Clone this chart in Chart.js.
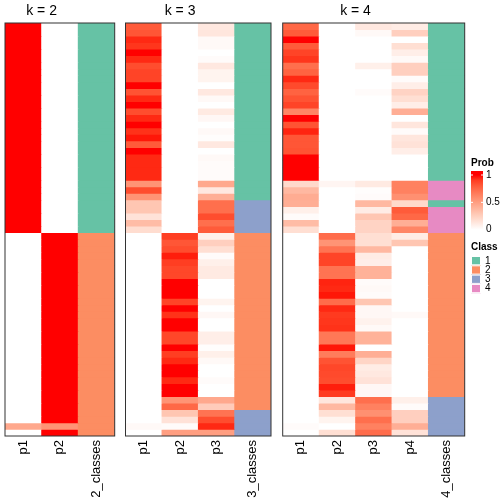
<!DOCTYPE html>
<html>
<head>
<meta charset="utf-8">
<script src="https://cdn.jsdelivr.net/npm/chart.js@4.4.1/dist/chart.umd.min.js"></script>
<style>
  body { margin: 0; background: #fff; }
  canvas { position: absolute; left: 0; top: 0; }
</style>
</head>
<body>
<canvas id="k2" width="504" height="504"></canvas>
<canvas id="k3" width="504" height="504"></canvas>
<canvas id="k4" width="504" height="504"></canvas>
<script>
// membership probabilities, one value per row (63 rows, top to bottom)
var k2_p1 = [1,1,1,1,1,1,1,1,1,1,1,1,1,1,1,1,1,1,1,1,1,1,1,1,1,1,1,1,1,1,1,1,
  0,0,0,0,0,0,0,0,0,0,0,0,0,0,0,0,0,0,0,0,0,0,0,0,0,0,0,0,0,0.45,0];
var k2_p2 = [0,0,0,0,0,0,0,0,0,0,0,0,0,0,0,0,0,0,0,0,0,0,0,0,0,0,0,0,0,0,0,0,
  1,1,1,1,1,1,1,1,1,1,1,1,1,1,1,1,1,1,1,1,1,1,1,1,1,1,1,1,1,0.55,1];
var k2_class = [1,1,1,1,1,1,1,1,1,1,1,1,1,1,1,1,1,1,1,1,1,1,1,1,1,1,1,1,1,1,1,1,
  2,2,2,2,2,2,2,2,2,2,2,2,2,2,2,2,2,2,2,2,2,2,2,2,2,2,2,2,2,2,2];

var k3_p1 = [0.8,0.82,0.95,0.92,1,0.95,0.85,0.88,0.88,1,0.83,0.95,1,0.85,0.95,1,0.93,0.98,0.8,1,
  0.95,0.95,0.95,0.95,0.55,0.85,0.55,0.3,0.3,0.15,0.35,0.18,
  0,0,0,0,0,0,0,0,0,0,0,0,0,0,0,0,0,0,0,0,0,0,0,0,0,0,0,0,0,0.03,0];
var k3_p2 = [0,0,0,0,0,0,0,0,0,0,0,0,0,0,0,0,0,0,0,0,0,0,0,0,0,0,0,0,0,0,0,0,
  0.9,0.82,0.85,0.97,0.9,0.87,0.87,1,1,1,0.88,1,0.93,1,1,0.87,0.87,1,0.9,0.95,1,1,0.95,1,1,
  0.55,0.75,0.3,0.15,0.02,0.5];
var k3_p3 = [0.12,0.13,0.03,0.03,0,0.02,0.12,0.06,0.06,0,0.12,0.03,0,0.11,0.04,0,0.03,0.01,0.12,0,
  0.03,0.02,0.02,0.02,0.45,0.12,0.42,0.72,0.72,0.85,0.72,0.8,
  0.08,0.25,0.17,0.02,0.08,0.11,0.11,0,0,0,0.06,0,0.04,0,0,0.09,0.09,0.01,0.08,0.03,0,0,0.02,0,0,
  0.45,0.27,0.7,0.85,0.95,0.5];
var k3_class = [1,1,1,1,1,1,1,1,1,1,1,1,1,1,1,1,1,1,1,1,1,1,1,1,1,1,1,3,3,3,3,3,
  2,2,2,2,2,2,2,2,2,2,2,2,2,2,2,2,2,2,2,2,2,2,2,2,2,2,2,3,3,3,3];

var k4_p1 = [0.75,0.8,1,0.8,0.88,0.92,0.72,0.77,0.95,0.86,0.77,0.83,0.88,0.62,1,0.83,0.96,0.82,0.82,0.83,
  1,1,1,1,0.2,0.37,0.43,0.42,0.08,0.02,0.35,0.17,
  0,0,0,0,0,0,0,0,0,0,0,0,0,0,0,0,0,0,0,0,0,0,0,0,0,0,0,0,0,0.02,0];
var k4_p2 = [0,0,0,0,0,0,0,0,0,0,0,0,0,0,0,0,0,0,0,0,0,0,0,0,0.05,0,0,0,0,0,0,0,
  0.73,0.55,0.7,0.88,0.88,0.7,0.7,0.96,0.95,0.98,0.73,0.95,0.91,0.92,0.93,0.68,0.68,0.98,0.66,0.83,
  0.87,0.86,0.85,0.97,0.91,0.13,0.37,0.17,0.06,0,0.17];
var k4_p3 = [0.12,0.03,0,0,0,0,0.08,0,0,0,0.02,0,0,0,0,0,0,0,0,0,0,0,0,0,
  0.11,0.01,0.02,0.37,0.1,0.3,0.23,0.23,
  0.17,0.17,0.37,0.1,0.09,0.4,0.4,0.02,0.03,0.02,0.3,0.04,0.04,0.07,0.03,0.4,0.4,0,0.42,0.22,
  0.1,0.12,0.15,0.04,0.04,0.72,0.64,0.57,0.72,0.64,0.73];
var k4_p4 = [0.1,0.25,0,0.17,0.09,0.03,0.25,0.25,0.02,0.09,0.23,0.17,0.09,0.42,0,0.13,0.02,0.13,0.15,0.09,
  0,0,0,0,0.64,0.64,0.57,0.2,0.8,0.75,0.42,0.62,
  0.1,0.3,0,0,0,0,0,0,0,0,0,0,0.03,0,0,0,0,0,0,0,0,0,0,0,0,
  0.08,0.02,0.25,0.25,0.42,0.15];
var k4_class = [1,1,1,1,1,1,1,1,1,1,1,1,1,1,1,1,1,1,1,1,1,1,1,1,4,4,4,1,4,4,4,4,
  2,2,2,2,2,2,2,2,2,2,2,2,2,2,2,2,2,2,2,2,2,2,2,2,2,3,3,3,3,3,3];

var classNames = ["1", "2", "3", "4"];
var classColors = ["#66C2A5", "#FC8D62", "#8DA0CB", "#E78AC3"];
var probTicks = [0, 0.5, 1];

var FONT = "'Liberation Sans', Arial, Helvetica, sans-serif";

// white -> red ramp, interpolated in LAB like colorRamp2
function toLin(c) { c /= 255; return c <= 0.04045 ? c / 12.92 : Math.pow((c + 0.055) / 1.055, 2.4); }
function fromLin(c) {
  c = c <= 0.0031308 ? 12.92 * c : 1.055 * Math.pow(c, 1 / 2.4) - 0.055;
  return Math.round(Math.max(0, Math.min(1, c)) * 255);
}
function rgb2lab(rgb) {
  var r = toLin(rgb[0]), g = toLin(rgb[1]), b = toLin(rgb[2]);
  var x = (0.4124 * r + 0.3576 * g + 0.1805 * b) / 0.95047;
  var y = 0.2126 * r + 0.7152 * g + 0.0722 * b;
  var z = (0.0193 * r + 0.1192 * g + 0.9505 * b) / 1.08883;
  var f = function (t) { return t > 0.008856 ? Math.cbrt(t) : 7.787 * t + 16 / 116; };
  var fx = f(x), fy = f(y), fz = f(z);
  return [116 * fy - 16, 500 * (fx - fy), 200 * (fy - fz)];
}
function lab2rgb(lab) {
  var fy = (lab[0] + 16) / 116, fx = fy + lab[1] / 500, fz = fy - lab[2] / 200;
  var g = function (t) { return t > 0.206893 ? t * t * t : (t - 16 / 116) / 7.787; };
  var x = g(fx) * 0.95047, y = g(fy), z = g(fz) * 1.08883;
  var r = 3.2406 * x - 1.5372 * y - 0.4986 * z;
  var gg = -0.9689 * x + 1.8758 * y + 0.0415 * z;
  var b = 0.0557 * x - 0.2040 * y + 1.0570 * z;
  return [fromLin(r), fromLin(gg), fromLin(b)];
}
var LAB_W = rgb2lab([255, 255, 255]), LAB_R = rgb2lab([255, 0, 0]);
function probColor(v) {
  var c = lab2rgb([0, 1, 2].map(function (i) { return LAB_W[i] + (LAB_R[i] - LAB_W[i]) * v; }));
  return "rgb(" + c[0] + "," + c[1] + "," + c[2] + ")";
}

var panelPlugin = {
  id: "panel",
  afterDatasetsDraw: function (chart) {
    var ctx = chart.ctx, a = chart.chartArea, o = chart.options.plugins.panel;
    ctx.save();
    ctx.strokeStyle = "#333";
    ctx.lineWidth = 1;
    ctx.strokeRect(a.left, a.top, a.right - a.left, a.bottom - a.top);
    var xs = chart.scales.x;
    var cx = (xs.getPixelForValue(0) + xs.getPixelForValue(o.nProb - 1)) / 2;
    ctx.fillStyle = "#000";
    ctx.font = "14px " + FONT;
    ctx.textAlign = "center";
    ctx.textBaseline = "middle";
    ctx.fillText(o.title, cx, 11);
    if (o.legend) drawLegend(ctx);
    ctx.restore();
  }
};

function drawLegend(ctx) {
  var lx = 471;
  ctx.textAlign = "left";
  ctx.textBaseline = "middle";
  ctx.fillStyle = "#000";
  ctx.font = "bold 10px " + FONT;
  ctx.fillText("Prob", lx, 163);
  // colour bar
  var top = 171, bot = 233, y1 = 175, y0 = 229.7;
  var grad = ctx.createLinearGradient(0, y0, 0, y1);
  for (var i = 0; i <= 10; i++) grad.addColorStop(i / 10, probColor(i / 10));
  ctx.fillStyle = probColor(1);
  ctx.fillRect(lx, top, 12, y1 - top);
  ctx.fillStyle = grad;
  ctx.fillRect(lx, y1, 12, y0 - y1);
  ctx.fillStyle = probColor(0);
  ctx.fillRect(lx, y0, 12, bot - y0);
  ctx.font = "10px " + FONT;
  probTicks.forEach(function (t) {
    var y = y0 + (y1 - y0) * t;
    ctx.strokeStyle = "#fff";
    ctx.beginPath();
    ctx.moveTo(lx, y); ctx.lineTo(lx + 2, y);
    ctx.moveTo(lx + 10, y); ctx.lineTo(lx + 12, y);
    ctx.stroke();
    ctx.fillStyle = "#000";
    ctx.fillText(String(t), lx + 15, y);
  });
  ctx.font = "bold 10px " + FONT;
  ctx.fillText("Class", lx, 247.5);
  ctx.font = "10px " + FONT;
  classNames.forEach(function (n, i) {
    var y = 256 + i * 9.3;
    ctx.fillStyle = classColors[i];
    ctx.fillRect(lx, y, 10, 9.3);
    ctx.strokeStyle = "#fff";
    ctx.strokeRect(lx + 0.5, y + 0.5, 9, 8.3);
    ctx.fillStyle = "#000";
    ctx.fillText(n, lx + 14, y + 4.8);
  });
}

function makePanel(id, probs, classes, k, left, right, legend) {
  var labels = probs.map(function (_, i) { return "p" + (i + 1); }).concat([k + "_classes"]);
  var datasets = classes.map(function (cl, r) {
    return {
      data: labels.map(function () { return 1; }),
      backgroundColor: probs.map(function (p) { return probColor(p[r]); })
        .concat([classColors[cl - 1]]),
      borderWidth: 0,
      barPercentage: 1,
      categoryPercentage: 1,
      stack: "rows"
    };
  });
  new Chart(document.getElementById(id), {
    type: "bar",
    data: { labels: labels, datasets: datasets },
    plugins: [panelPlugin],
    options: {
      responsive: false,
      animation: false,
      devicePixelRatio: 1,
      layout: { padding: { left: left, right: 504 - right, top: 23, bottom: 0 } },
      plugins: {
        legend: { display: false },
        tooltip: { enabled: false },
        panel: { title: "k = " + k, nProb: probs.length, legend: legend }
      },
      scales: {
        x: {
          stacked: true,
          grid: { display: false, drawTicks: false },
          border: { display: false },
          ticks: { minRotation: 90, maxRotation: 90, padding: 4, color: "#000",
                   font: { family: FONT, size: 13 } },
          afterFit: function (s) { s.height = 68; }
        },
        y: { stacked: true, reverse: true, min: 0, max: classes.length, display: false }
      }
    }
  });
}

makePanel("k2", [k2_p1, k2_p2], k2_class, 2, 5, 114.7, false);
makePanel("k3", [k3_p1, k3_p2, k3_p3], k3_class, 3, 125.5, 271, false);
makePanel("k4", [k4_p1, k4_p2, k4_p3, k4_p4], k4_class, 4, 282.7, 464.7, true);
</script>
</body>
</html>
